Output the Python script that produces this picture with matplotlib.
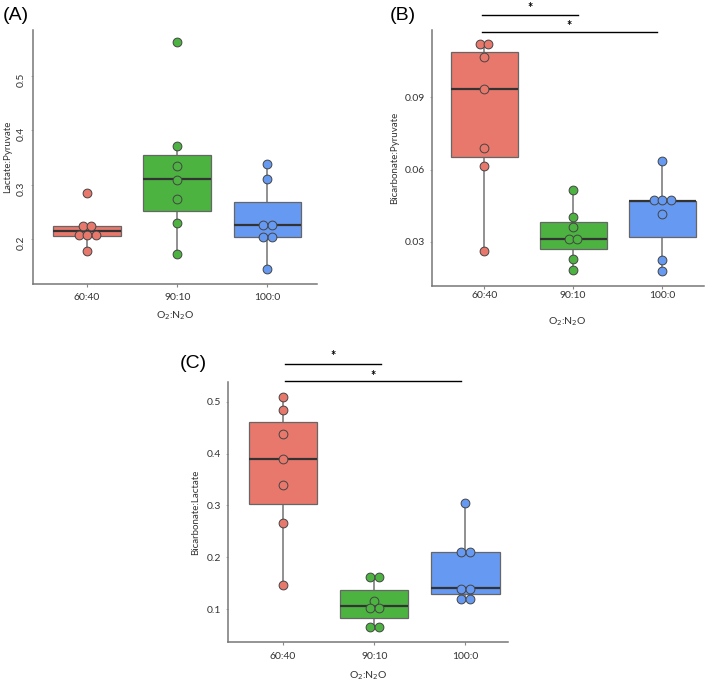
import matplotlib
matplotlib.use('Agg')
import matplotlib.pyplot as plt
import numpy as np

plt.rcParams['font.family'] = ['Lato', 'DejaVu Sans']

groups = ['60:40', '90:10', '100:0']
colors = ['#E8786C', '#4CB341', '#6699F2']

# Lactate:Pyruvate (A)
lp_points = [[0.285, 0.224, 0.224, 0.207, 0.207, 0.207, 0.178],
             [0.562, 0.372, 0.335, 0.309, 0.273, 0.230, 0.172],
             [0.338, 0.311, 0.225, 0.225, 0.203, 0.203, 0.144]]
lp_q1 = [0.206, 0.252, 0.203]
lp_med = [0.214, 0.310, 0.225]
lp_q3 = [0.224, 0.354, 0.268]
lp_whislo = [0.178, 0.172, 0.144]
lp_whishi = [0.224, 0.372, 0.338]

# Bicarbonate:Pyruvate (B)
bp_points = [[0.1118, 0.1118, 0.1065, 0.0933, 0.0689, 0.0615, 0.0261],
             [0.0514, 0.0403, 0.0362, 0.0314, 0.0314, 0.0230, 0.0183],
             [0.0634, 0.0473, 0.0473, 0.0473, 0.0417, 0.0225, 0.0180]]
bp_q1 = [0.0653, 0.0270, 0.0321]
bp_med = [0.0933, 0.0314, 0.0471]
bp_q3 = [0.1087, 0.0383, 0.0471]
bp_whislo = [0.0261, 0.0183, 0.0180]
bp_whishi = [0.1118, 0.0514, 0.0634]

# Bicarbonate:Lactate (C)
bl_points = [[0.510, 0.484, 0.438, 0.390, 0.340, 0.267, 0.146],
             [0.161, 0.161, 0.115, 0.101, 0.101, 0.066, 0.066],
             [0.305, 0.210, 0.210, 0.138, 0.138, 0.119, 0.119]]
bl_q1 = [0.3035, 0.082, 0.129]
bl_med = [0.390, 0.106, 0.140]
bl_q3 = [0.461, 0.136, 0.2096]
bl_whislo = [0.146, 0.066, 0.119]
bl_whishi = [0.510, 0.161, 0.305]


def swarm_x(vals, center, step=0.095):
    vals = np.asarray(vals)
    xs = np.zeros(len(vals))
    for v in np.unique(vals):
        idx = np.where(vals == v)[0]
        xs[idx] = center + (np.arange(len(idx)) - (len(idx) - 1) / 2) * step
    return xs


def draw_panel(ax, points, q1, med, q3, lo, hi, ylabel):
    stats = [dict(q1=q1[i], med=med[i], q3=q3[i], whislo=lo[i], whishi=hi[i])
             for i in range(len(groups))]
    bp = ax.bxp(stats, positions=range(len(groups)), widths=0.75,
                showfliers=False, showcaps=False, patch_artist=True,
                boxprops=dict(edgecolor='#666666', linewidth=0.9),
                whiskerprops=dict(color='#888888', linewidth=1.3),
                medianprops=dict(color='#333333', linewidth=1.6))
    for patch, c in zip(bp['boxes'], colors):
        patch.set_facecolor(c)
    for w in bp['whiskers']:
        w.set_zorder(1)
    for i, vals in enumerate(points):
        ax.scatter(swarm_x(vals, i), vals, s=40, color=colors[i],
                   edgecolor='#444444', linewidth=0.7, zorder=5)
    ax.set_xticks(range(len(groups)))
    ax.set_xticklabels(groups)
    for side in ['top', 'right']:
        ax.spines[side].set_visible(False)
    for side in ['left', 'bottom']:
        ax.spines[side].set_color('#777777')
        ax.spines[side].set_linewidth(1.1)
    ax.tick_params(axis='x', length=2.5, width=0.8, color='#888888',
                   labelsize=7.5, labelcolor='#333333')
    ax.tick_params(axis='y', length=1.5, width=0.6, color='#aaaaaa',
                   labelsize=7.5, labelcolor='#333333', pad=3.5)
    ax.set_ylabel(ylabel, fontsize=7, color='#333333')
    ax.set_xlabel(r'O$_2$:N$_2$O', fontsize=7.5, color='#333333')


def sig_bar(ax, x0, x1, y, ystar):
    ax.plot([x0, x1], [y, y], color='black', linewidth=1.0, clip_on=False)
    ax.text((x0 + x1) / 2, ystar, '*', ha='center', va='center',
            fontsize=9, fontweight='bold', clip_on=False)


fig = plt.figure(figsize=(7.09, 6.82), dpi=100)

axA = fig.add_axes([0.0465, 0.5836, 0.4006, 0.3724])
draw_panel(axA, lp_points, lp_q1, lp_med, lp_q3, lp_whislo, lp_whishi,
           'Lactate:Pyruvate')
axA.set_xlim(-0.6, 2.55)
axA.set_ylim(0.117, 0.585)
axA.set_yticks([0.2, 0.3, 0.4, 0.5])
axA.tick_params(axis='y', labelrotation=90)
axA.tick_params(axis='x', pad=4)
axA.yaxis.set_label_coords(-0.074, 0.5)
axA.xaxis.set_label_coords(0.5, -0.1)

axB = fig.add_axes([0.6089, 0.5811, 0.384, 0.3749])
draw_panel(axB, bp_points, bp_q1, bp_med, bp_q3, bp_whislo, bp_whishi,
           'Bicarbonate:Pyruvate')
axB.set_xlim(-0.59, 2.47)
axB.set_ylim(0.0119, 0.1178)
axB.set_yticks([0.03, 0.06, 0.09])
axB.tick_params(axis='x', pad=1)
axB.yaxis.set_label_coords(-0.12, 0.5)
axB.xaxis.set_label_coords(0.5, -0.115)
sig_bar(axB, -0.03, 1.05, 0.1239, 0.1268)
sig_bar(axB, -0.03, 1.94, 0.1168, 0.1193)

axC = fig.add_axes([0.322, 0.0582, 0.395, 0.3821])
draw_panel(axC, bl_points, bl_q1, bl_med, bl_q3, bl_whislo, bl_whishi,
           'Bicarbonate:Lactate')
axC.set_xlim(-0.6, 2.47)
axC.set_ylim(0.0357, 0.539)
axC.set_yticks([0.1, 0.2, 0.3, 0.4, 0.5])
axC.tick_params(axis='x', pad=4.5)
axC.yaxis.set_label_coords(-0.101, 0.5)
axC.xaxis.set_label_coords(0.5, -0.105)
sig_bar(axC, 0.02, 1.07, 0.5729, 0.5885)
sig_bar(axC, 0.02, 1.95, 0.540, 0.550)

for label, x, y in [('(A)', 3, 15), ('(B)', 390, 15), ('(C)', 180, 363)]:
    fig.text(x / 709, 1 - y / 682, label, fontsize=14, ha='left', va='center',
             family=['Liberation Sans', 'DejaVu Sans'])

fig.savefig('out.png', dpi=100)
